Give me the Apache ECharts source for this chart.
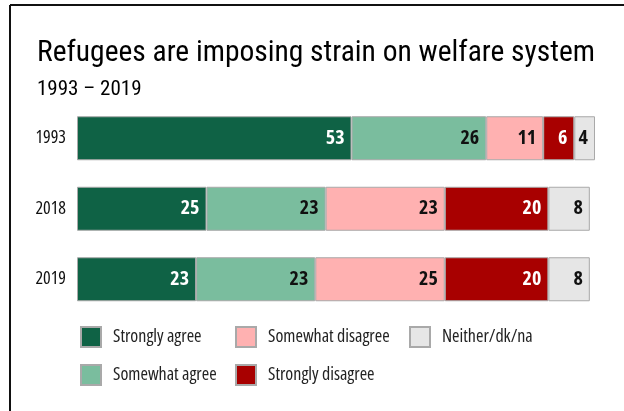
<!DOCTYPE html>
<html>
<head>
<meta charset="utf-8">
<style>
  html, body { margin: 0; padding: 0; background: #fff; }
  #chart { width: 624px; height: 411px; }
</style>
<script src="https://cdn.jsdelivr.net/npm/echarts@6/dist/echarts.min.js"></script>
</head>
<body>
<div id="chart"></div>
<script>
// Survey years and answer shares (%)
const years = ['1993', '2018', '2019'];
const stronglyAgree    = [53, 25, 23];
const somewhatAgree    = [26, 23, 23];
const somewhatDisagree = [11, 23, 25];
const stronglyDisagree = [6, 20, 20];
const neither          = [4, 8, 8];

const seriesNames = ['Strongly agree', 'Somewhat agree', 'Somewhat disagree', 'Strongly disagree', 'Neither/dk/na'];
const seriesData = [stronglyAgree, somewhatAgree, somewhatDisagree, stronglyDisagree, neither];
const colors = ['#0f6245', '#7abd9e', '#ffb1b1', '#a80000', '#e6e6e6'];
const labelColors = ['#ffffff', '#111111', '#111111', '#ffffff', '#111111'];

// Condensed faces: Open Sans with a condensed stretch, Roboto Condensed for the headings
const narrow = '"Open Sans", sans-serif';
const headFont = '"Roboto Condensed", "Roboto", sans-serif';

const chart = echarts.init(document.getElementById('chart'), null, { renderer: 'canvas' });

const series = seriesNames.map((name, i) => ({
  name: name,
  type: 'bar',
  stack: 'total',
  barWidth: 44,
  data: seriesData[i],
  itemStyle: { color: colors[i], borderColor: '#a9a9a9', borderWidth: 1 },
  label: {
    show: true,
    position: 'insideRight',
    distance: 7,
    color: labelColors[i],
    fontFamily: narrow,
    fontWeight: 'bold condensed',
    fontSize: 20
  },
  emphasis: { disabled: true }
}));

const legendText = { fontFamily: narrow, fontWeight: 'normal condensed', fontSize: 18, color: '#222', padding: [0, 0, 0, 7] };
const legendBase = {
  orient: 'vertical',
  top: 321,
  itemWidth: 20,
  itemHeight: 20,
  itemGap: 16,
  icon: 'rect',
  selectedMode: false,
  textStyle: legendText
};

chart.setOption({
  animation: false,
  title: [
    {
      text: 'Refugees are imposing strain on welfare system',
      left: 32, top: 34,
      textStyle: { fontFamily: headFont, fontSize: 29.5, fontWeight: 'normal', color: '#000' }
    },
    {
      text: '1993 – 2019',
      left: 32, top: 74,
      textStyle: { fontFamily: headFont, fontSize: 21, fontWeight: 'normal', color: '#000' }
    }
  ],
  legend: [
    Object.assign({}, legendBase, { left: 75, data: ['Strongly agree', 'Somewhat agree'] }),
    Object.assign({}, legendBase, { left: 230, data: ['Somewhat disagree', 'Strongly disagree'] }),
    Object.assign({}, legendBase, { left: 404, data: ['Neither/dk/na'] })
  ],
  grid: { left: 77, right: 29, top: 103, height: 211.5, containLabel: false },
  xAxis: {
    type: 'value',
    min: 0,
    max: 100,
    show: false
  },
  yAxis: {
    type: 'category',
    data: years,
    inverse: true,
    axisLine: { show: false },
    axisTick: { show: false },
    axisLabel: { fontFamily: narrow, fontWeight: 'normal condensed', fontSize: 18, color: '#111', margin: 11 }
  },
  graphic: [
    { type: 'line', shape: { x1: 10, y1: 5, x2: 624, y2: 5 }, style: { stroke: '#111', lineWidth: 2 } },
    { type: 'line', shape: { x1: 10, y1: 5, x2: 10, y2: 411 }, style: { stroke: '#111', lineWidth: 2 } }
  ],
  series: series
});
</script>
</body>
</html>
